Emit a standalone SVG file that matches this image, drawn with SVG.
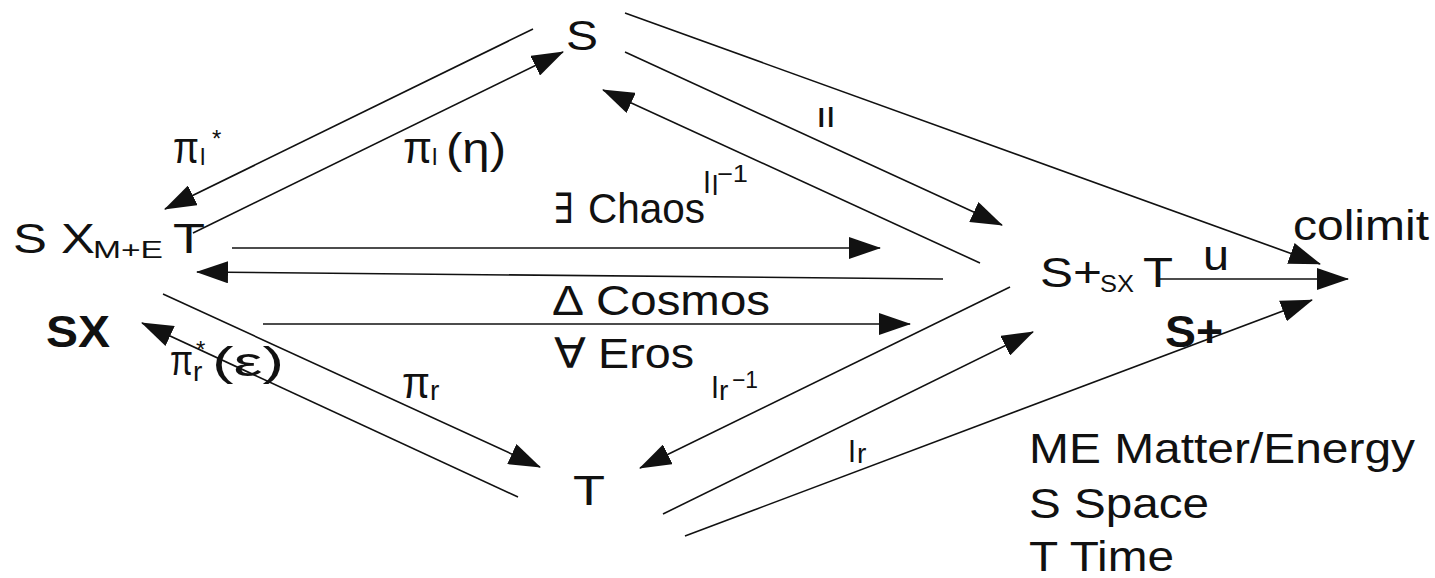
<svg xmlns="http://www.w3.org/2000/svg" width="1435" height="578" viewBox="0 0 1435 578">
<style>
text{font-family:"Liberation Sans",Arial,"DejaVu Sans",sans-serif;fill:#111;font-size:42px}
.s{font-size:24px}
.m{font-size:28px}
.b{font-weight:bold;font-size:44px}
.c line{stroke:#111;stroke-width:1.6;marker-end:url(#ah)}
</style>
<defs>
<marker id="ah" markerUnits="userSpaceOnUse" markerWidth="32" markerHeight="22" refX="31" refY="11" orient="auto">
<path d="M0,0 L32,11 L0,22 z" fill="#111"/>
</marker>
</defs>
<rect width="1435" height="578" fill="#fff"/>
<g id="connectors" class="c">
<line x1="533" y1="29" x2="165" y2="209"/>
<line x1="193" y1="233" x2="563" y2="52"/>
<line x1="625" y1="13" x2="1320" y2="264"/>
<line x1="625" y1="52" x2="1002" y2="225"/>
<line x1="980" y1="263" x2="603" y2="90"/>
<line x1="232" y1="248" x2="880" y2="248"/>
<line x1="943" y1="279" x2="197" y2="272"/>
<line x1="263" y1="324" x2="910" y2="324"/>
<line x1="163" y1="294" x2="540" y2="467"/>
<line x1="518" y1="497" x2="142" y2="323"/>
<line x1="1010" y1="287" x2="640" y2="468"/>
<line x1="663" y1="514" x2="1033" y2="332"/>
<line x1="685" y1="536" x2="1312" y2="300"/>
<line x1="1160" y1="279" x2="1348" y2="279"/>
</g>
<g id="node-S"><text x="566" y="50" textLength="32" lengthAdjust="spacingAndGlyphs">S</text></g>
<g id="node-SxT">
<text><tspan x="13" y="253" textLength="82" lengthAdjust="spacingAndGlyphs">S X</tspan><tspan class="s" x="93" y="258" textLength="70" lengthAdjust="spacingAndGlyphs">M+E</tspan><tspan x="173" y="253" textLength="32" lengthAdjust="spacingAndGlyphs">T</tspan></text>
</g>
<g id="node-SX"><text class="b" x="46" y="347" textLength="64" lengthAdjust="spacingAndGlyphs">SX</text></g>
<g id="node-T"><text x="573" y="505" textLength="32" lengthAdjust="spacingAndGlyphs">T</text></g>
<g id="node-SplusT">
<text><tspan x="1040" y="287" textLength="62" lengthAdjust="spacingAndGlyphs">S+</tspan><tspan class="s" x="1100" y="292" textLength="34" lengthAdjust="spacingAndGlyphs">SX</tspan><tspan x="1143" y="287" textLength="30" lengthAdjust="spacingAndGlyphs">T</tspan></text>
</g>
<g id="node-colimit"><text x="1293" y="240" textLength="136" lengthAdjust="spacingAndGlyphs">colimit</text></g>
<g id="node-Splus"><text class="b" x="1165" y="347" textLength="58" lengthAdjust="spacingAndGlyphs">S+</text></g>
<g id="labels">
<text><tspan x="173" y="163" font-size="44" textLength="26" lengthAdjust="spacingAndGlyphs">π</tspan><tspan class="s" x="200" y="165">l</tspan><tspan class="s" x="212" y="147">*</tspan></text>
<text><tspan x="403" y="163" font-size="44" textLength="29" lengthAdjust="spacingAndGlyphs">π</tspan><tspan class="s" x="432" y="165">l</tspan><tspan x="446" y="163" textLength="60" lengthAdjust="spacingAndGlyphs">(η)</tspan></text>
<text class="m" x="816" y="127" textLength="19" lengthAdjust="spacingAndGlyphs">Il</text>
<text><tspan x="553" y="223" textLength="20" lengthAdjust="spacingAndGlyphs">∃</tspan><tspan x="588" y="223" textLength="117" lengthAdjust="spacingAndGlyphs">Chaos</tspan></text>
<text><tspan x="703" y="193" font-size="32" textLength="8" lengthAdjust="spacingAndGlyphs">I</tspan><tspan class="m" x="712" y="195">l</tspan><tspan class="s" x="717" y="182" textLength="31" lengthAdjust="spacingAndGlyphs">−1</tspan></text>
<text><tspan x="552" y="315" textLength="32" lengthAdjust="spacingAndGlyphs">Δ</tspan><tspan x="596" y="315" textLength="174" lengthAdjust="spacingAndGlyphs">Cosmos</tspan></text>
<text><tspan x="554" y="368" textLength="32" lengthAdjust="spacingAndGlyphs">∀</tspan><tspan x="598" y="368" textLength="96" lengthAdjust="spacingAndGlyphs">Eros</tspan></text>
<text><tspan x="711" y="398" font-size="32" textLength="8" lengthAdjust="spacingAndGlyphs">I</tspan><tspan class="m" x="719" y="400">r</tspan><tspan class="s" x="732" y="388" textLength="26" lengthAdjust="spacingAndGlyphs">−1</tspan></text>
<text><tspan x="402" y="398" font-size="44" textLength="28" lengthAdjust="spacingAndGlyphs">π</tspan><tspan class="m" x="430" y="400">r</tspan></text>
<text><tspan x="170" y="375" textLength="23" lengthAdjust="spacingAndGlyphs">π</tspan><tspan class="m" x="193" y="381">r</tspan><tspan class="s" x="196" y="358">*</tspan><tspan x="212" y="376" font-size="40" textLength="72" lengthAdjust="spacingAndGlyphs">(ε)</tspan></text>
<text><tspan x="848" y="462" font-size="32" textLength="8" lengthAdjust="spacingAndGlyphs">I</tspan><tspan class="m" x="857" y="463">r</tspan></text>
<text x="1203" y="270" textLength="26" lengthAdjust="spacingAndGlyphs">u</text>
</g>
<g id="legend">
<text x="1029" y="463" textLength="386" lengthAdjust="spacingAndGlyphs">ME Matter/Energy</text>
<text x="1029" y="518" textLength="180" lengthAdjust="spacingAndGlyphs">S Space</text>
<text x="1029" y="571" textLength="145" lengthAdjust="spacingAndGlyphs">T Time</text>
</g>
</svg>
